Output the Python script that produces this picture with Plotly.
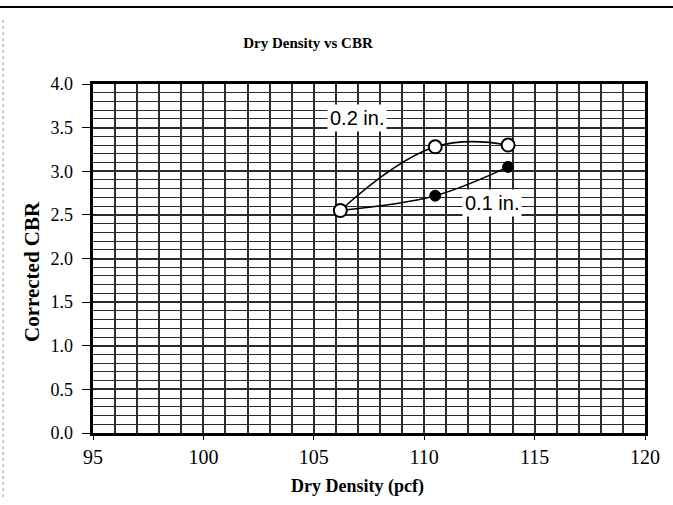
import plotly.graph_objects as go

# Dry density (pcf) and corrected CBR for the two penetration depths
density = [106.2, 110.5, 113.8]
cbr_02 = [2.55, 3.28, 3.30]
cbr_01 = [2.55, 2.72, 3.05]

series_labels = ["0.2 in.", "0.1 in."]
label_pos = [(106.95, 3.61), (113.05, 2.64)]

x_ticks = [95, 100, 105, 110, 115, 120]
y_ticks = [0.0, 0.5, 1.0, 1.5, 2.0, 2.5, 3.0, 3.5, 4.0]

grid_col = "#2a2a2a"
serif = "Liberation Serif, Times New Roman, serif"

# figure and plot-area geometry in pixels
W, H = 673, 505
L, R, T, B = 93, 28, 84, 72          # plot-area edges
LAB = 73                              # x of the free axis carrying the y labels
pw, ph = W - L - R, H - T - B
full_w = W - LAB - R
dom0 = (L - LAB) / full_w


def px_x(p):
    """paper x for a pixel column"""
    return (p - LAB) / full_w


def px_y(p):
    """paper y for a pixel row"""
    return 1 - (p - T) / ph


fig = go.Figure()

# 0.1 in. series (filled markers) underneath
fig.add_trace(go.Scatter(
    x=density, y=cbr_01, mode="lines+markers",
    line=dict(color="black", width=1.6, shape="spline", smoothing=1.0),
    marker=dict(symbol="circle", size=11, color="black",
                line=dict(color="black", width=1)),
    showlegend=False,
))
# 0.2 in. series (open markers) on the overlaying axis so it sits on top
fig.add_trace(go.Scatter(
    x=density, y=cbr_02, mode="lines+markers", yaxis="y2",
    line=dict(color="black", width=1.6, shape="spline", smoothing=1.2),
    marker=dict(symbol="circle", size=13, color="white",
                line=dict(color="black", width=2)),
    showlegend=False,
))

for text, (lx, ly) in zip(series_labels, label_pos):
    fig.add_annotation(
        x=lx, y=ly, xref="x", yref="y", text=text, showarrow=False,
        font=dict(family="Liberation Sans, Arial, sans-serif", size=20, color="black"),
        bgcolor="white", borderpad=2,
    )

# axis titles
fig.add_annotation(
    x=px_x(357), y=px_y(486), xref="paper", yref="paper",
    text="<b>Dry Density (pcf)</b>", showarrow=False,
    xanchor="center", yanchor="middle",
    font=dict(family=serif, size=18, color="black"),
)
fig.add_annotation(
    x=px_x(32), y=px_y(272), xref="paper", yref="paper",
    text="<b>Corrected CBR</b>", showarrow=False, textangle=-90,
    xanchor="center", yanchor="middle",
    font=dict(family=serif, size=21, color="black"),
)

fig.update_layout(
    width=W, height=H,
    margin=dict(l=LAB, r=R, t=T, b=B),
    paper_bgcolor="white", plot_bgcolor="white",
    title=dict(text="<b>Dry Density vs CBR</b>", x=308 / W, xanchor="center",
               y=1 - 43 / H, yanchor="middle",
               font=dict(family=serif, size=15, color="black")),
    xaxis=dict(
        domain=[dom0, 1],
        range=[95, 120], tickvals=x_ticks, ticktext=[str(v) for v in x_ticks],
        showgrid=True, gridcolor=grid_col, gridwidth=1.6,
        minor=dict(dtick=1, showgrid=True, gridcolor=grid_col, gridwidth=1.6),
        showline=True, linecolor="black", linewidth=2.5, mirror=True,
        ticks="outside", ticklen=4, tickcolor="black", zeroline=False,
        tickfont=dict(family=serif, size=20, color="black"),
    ),
    yaxis=dict(
        range=[0, 4], tickvals=y_ticks, showticklabels=False,
        showgrid=True, gridcolor=grid_col, gridwidth=1.6,
        minor=dict(dtick=0.1, showgrid=True, gridcolor=grid_col, gridwidth=1.3),
        showline=True, linecolor="black", linewidth=2.5, mirror=True,
        ticks="outside", ticklen=8, tickcolor="black", zeroline=False,
    ),
    yaxis2=dict(
        overlaying="y", matches="y", anchor="free", position=0, side="left",
        range=[0, 4], tickvals=y_ticks, ticktext=[f"{v:.1f}" for v in y_ticks],
        showgrid=False, showline=False, zeroline=False, ticks="",
        tickfont=dict(family=serif, size=18, color="black"),
    ),
)

# page rule across the top of the sheet and faint edge on the left
fig.add_shape(type="line", xref="paper", yref="paper",
              x0=px_x(0), x1=px_x(W), y0=px_y(7), y1=px_y(7),
              line=dict(color="black", width=2))
fig.add_shape(type="line", xref="paper", yref="paper",
              x0=px_x(3), x1=px_x(3), y0=px_y(20), y1=px_y(H - 5),
              line=dict(color="#999999", width=1, dash="dot"))

fig.write_html("out.html")
